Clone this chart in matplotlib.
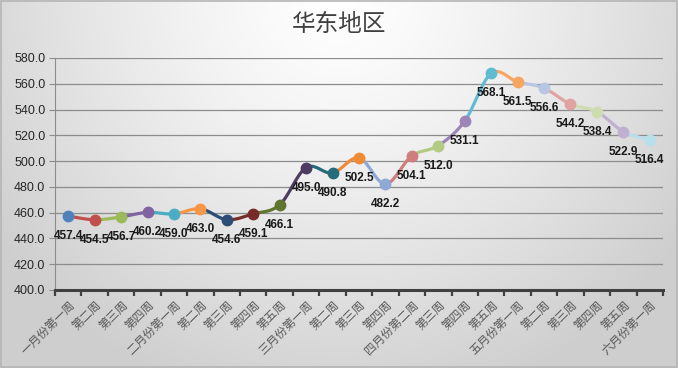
"""华东地区 weekly price line chart."""

import matplotlib.pyplot as plt
import numpy as np
from matplotlib.patches import Rectangle

plt.rcParams["font.family"] = ["Liberation Sans", "Noto Sans CJK SC", "DejaVu Sans"]

weeks = [
    "一月份第一周", "第二周", "第三周", "第四周",
    "二月份第一周", "第二周", "第三周", "第四周", "第五周",
    "三月份第一周", "第二周", "第三周", "第四周",
    "四月份第二周", "第三周", "第四周", "第五周",
    "五月份第一周", "第二周", "第三周", "第四周", "第五周",
    "六月份第一周",
]
prices = [
    457.4, 454.5, 456.7, 460.2,
    459.0, 463.0, 454.6, 459.1, 466.1,
    495.0, 490.8, 502.5, 482.2,
    504.1, 512.0, 531.1, 568.1,
    561.5, 556.6, 544.2, 538.4, 522.9,
    516.4,
]
# one colour per point (office palette order with shades)
point_colors = [
    "#4F81BD", "#C0504D", "#9BBB59", "#8064A2", "#4BACC6", "#F79646",
    "#2C4D75", "#772C2A", "#5F7530", "#4D3B62", "#276A7C", "#F08A35",
    "#8EA9D5", "#D07E7C", "#B3CA84", "#9C86B7", "#5FBCD3", "#F8A561",
    "#B7C6E2", "#E0A3A2", "#CDDDB0", "#BFB0D1", "#B7E0EA",
]

W, H = 678, 368
fig = plt.figure(figsize=(W / 100, H / 100), dpi=100)

# chart background gradient
bg = fig.add_axes([0, 0, 1, 1], zorder=0)
gx, gy = np.meshgrid(np.linspace(0, 1, 340), np.linspace(1, 0, 184))
d = np.sqrt(((gx - 0.5) / 0.62) ** 2 + ((gy - 1.02) / 1.15) ** 2)
shade = 1.0 - 0.19 * np.clip(d, 0, 1) ** 1.3
bg.imshow(np.dstack([shade] * 3), extent=[0, 1, 0, 1], aspect="auto",
          interpolation="bilinear")
bg.add_patch(Rectangle((0.001, 0.002), 0.997, 0.995, fill=False,
                       edgecolor="#B5B5B5", lw=1.2, transform=bg.transAxes))
bg.axis("off")

ax = fig.add_axes([55 / W, 1 - 290 / H, (663 - 55) / W, (290 - 58) / H], zorder=1)
ax.patch.set_alpha(0)

n = len(prices)
x = np.arange(n)
y = np.array(prices)


def bezier_segment(i, steps=30):
    """Smoothed segment between point i and i+1 (excel style)."""
    p = np.column_stack([x, y]).astype(float)
    p_prev = p[max(i - 1, 0)]
    p_next2 = p[min(i + 2, n - 1)]
    p0, p3 = p[i], p[i + 1]
    p1 = p0 + (p3 - p_prev) / 6
    p2 = p3 - (p_next2 - p0) / 6
    t = np.linspace(0, 1, steps)[:, None]
    pts = ((1 - t) ** 3) * p0 + 3 * ((1 - t) ** 2) * t * p1 \
        + 3 * (1 - t) * t ** 2 * p2 + t ** 3 * p3
    return pts[:, 0], pts[:, 1]


for i in range(n - 1):
    sx, sy = bezier_segment(i)
    ax.plot(sx, sy, color=point_colors[i + 1], lw=2.3,
            solid_capstyle="round", zorder=3)

for i in range(n):
    ax.plot(x[i], y[i], "o", color=point_colors[i], markersize=7.5, zorder=4)
    ax.annotate(f"{prices[i]:.1f}", (x[i], y[i]), xytext=(0, -20),
                textcoords="offset pixels", ha="center", va="center",
                fontsize=8.5, fontweight="bold", color="#1a1a1a", zorder=5)

ax.set_xlim(-0.5, n - 0.5)
ax.set_ylim(400, 580)
ax.set_yticks(np.arange(400, 581, 20))
ax.set_yticklabels([f"{v:.1f}" for v in np.arange(400, 581, 20)],
                   fontsize=9, color="#262626")
ax.yaxis.grid(True, color="#8C8C8C", lw=0.9)
ax.set_axisbelow(True)

ax.set_xticks(np.arange(-0.5, n, 1.0))
ax.set_xticklabels([])
ax.set_xticks(x, minor=True)
ax.set_xticklabels(weeks, minor=True, rotation=45, ha="right",
                   rotation_mode="anchor", fontsize=8.5, color="#595959",
                   family=["Noto Sans CJK SC", "DejaVu Sans"])
ax.tick_params(axis="x", which="minor", length=0, pad=6)
ax.tick_params(axis="x", which="major", length=4, width=1.6, color="#404040",
               direction="out")
ax.tick_params(axis="y", length=4, color="#8C8C8C", width=0.8, pad=3)

for side in ("top", "right"):
    ax.spines[side].set_visible(False)
ax.spines["left"].set_color("#8C8C8C")
ax.spines["left"].set_linewidth(0.8)
ax.spines["bottom"].set_color("#404040")
ax.spines["bottom"].set_linewidth(2.2)

fig.text(0.5, 1 - 24 / H, "华东地区", ha="center", va="center", fontsize=17,
         color="#404040", family=["Noto Sans CJK SC", "DejaVu Sans"])

fig.savefig("out.png", dpi=100)
